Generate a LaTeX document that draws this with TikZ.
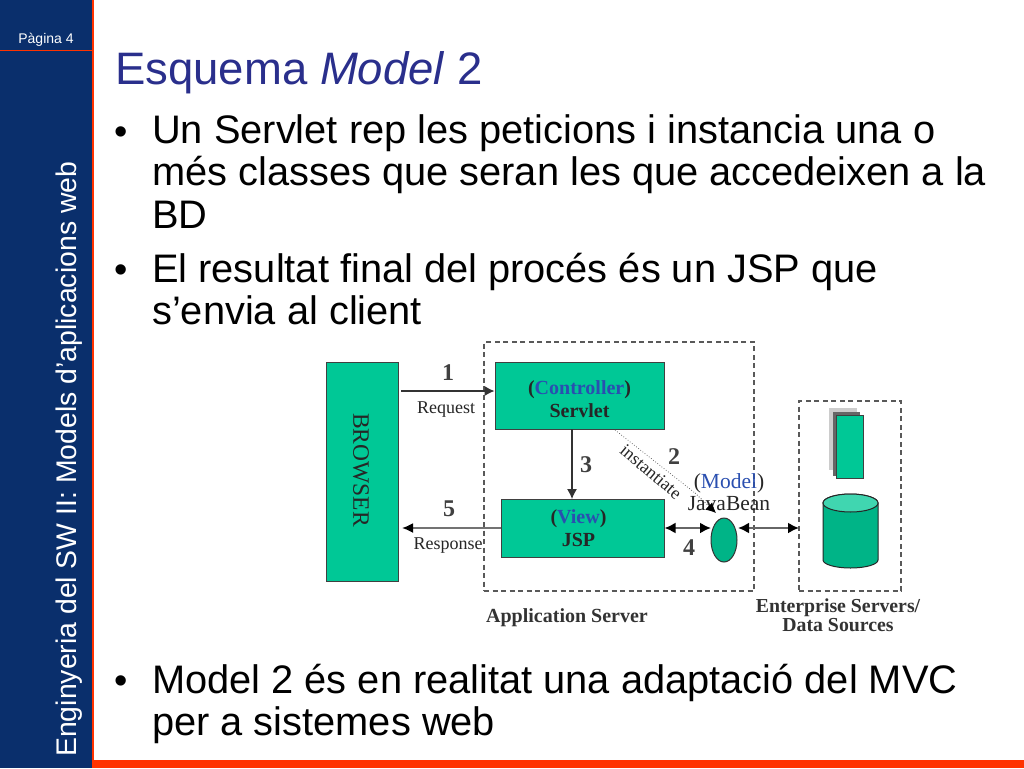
\documentclass[tikz,border=0pt]{standalone}
\usepackage{fontspec}
\setmainfont{Liberation Sans}
\newfontfamily\dgm{Liberation Serif}
\usetikzlibrary{shapes.geometric,arrows.meta}
\definecolor{navy}{HTML}{0A2F6C}
\definecolor{orng}{HTML}{FF3300}
\definecolor{ttl}{HTML}{2A2F8C}
\definecolor{teal}{HTML}{00C896}
\definecolor{bluet}{HTML}{2A4FB0}
\tikzset{
 x=1pt,y=-1pt,
 body/.style={anchor=north west,inner sep=0pt,align=left,font=\fontsize{39.8}{42.5}\selectfont,text=black},
 bul/.style={anchor=base,inner sep=0pt,font=\fontsize{38}{42}\selectfont},
 tealbox/.style={draw=black!75,line width=1pt,fill=teal,inner sep=0pt,align=center,font=\dgm\fontsize{20}{23.5}\selectfont\bfseries,text=black!85},
 region/.style={draw=black!65,dashed,line width=1.6pt,dash pattern=on 5pt off 3.5pt},
 lab/.style={inner sep=0pt,font=\dgm\fontsize{18}{20}\selectfont,text=black!85},
 num/.style={inner sep=0pt,font=\dgm\fontsize{24}{26}\selectfont\bfseries,text=black!75},
 conn/.style={line width=1.1pt,draw=black!80,-{Latex[length=10pt,width=10pt]}},
 both/.style={line width=2pt,draw=black!60,{Latex[length=11pt,width=11pt,black]}-{Latex[length=11pt,width=11pt,black]}},
}
\newcommand{\blu}[1]{(\textcolor{bluet}{#1})}
\begin{document}
\begin{tikzpicture}
\useasboundingbox (0,0) rectangle (1024,768);
\fill[white] (0,0) rectangle (1024,768);
\fill[navy] (0,0) rectangle (92,768);
\fill[orng] (92,0) rectangle (94,768);
\fill[orng] (92,760) rectangle (1024,768);
\fill[orng] (0,50) rectangle (92,51.5);
\node (page) at (46,40) [inner sep=0pt,text=white,font=\fontsize{14}{16}\selectfont] {Pàgina 4};
\node (side) at (76,757) [anchor=base west,rotate=90,inner sep=0pt,text=white,font=\fontsize{28.4}{32}\selectfont] {Enginyeria del SW II: Models d’aplicacions web};
\node (title) at (115,84) [anchor=base west,inner sep=0pt,text=ttl,font=\fontsize{45.5}{48}\selectfont] {Esquema \textit{Model} 2};
\node (b1) at (121,144) [bul] {•};
\node (t1) at (152,114) [body] {Un Servlet rep les peticions i instancia una o\\més classes que seran les que accedeixen a la\\BD};
\node (b2) at (121,282) [bul] {•};
\node (t2) at (152,252.5) [body] {El resultat final del procés és un JSP que\\s’envia al client};
\node (b3) at (121,693) [bul] {•};
\node (t3) at (152,663.5) [body] {Model 2 és en realitat una adaptació del MVC\\per a sistemes web};
% regions
\node (app) at (619,466.5) [region,minimum width=270pt,minimum height=249pt,inner sep=0pt] {};
\node (ent) at (850,496) [region,minimum width=102pt,minimum height=190pt,inner sep=0pt] {};
% boxes
\node (browser) at (362,471.5) [tealbox,minimum width=72pt,minimum height=219pt] {};
\node (browsertxt) at (361,470) [rotate=-90,inner sep=0pt,font=\dgm\fontsize{23.5}{26}\selectfont,text=black!85] {BROWSER};
\node (ctrl) at (579.5,395.5) [tealbox,minimum width=169pt,minimum height=67pt] {\rule{0pt}{21pt}\blu{Controller}\\Servlet};
\node (view) at (582.5,528) [tealbox,minimum width=163pt,minimum height=58pt] {\blu{View}\hspace*{8pt}\\JSP\hspace*{8pt}};
\node (bean) at (724,540) [ellipse,draw=black!80,line width=1pt,fill=teal!90!black,minimum width=26pt,minimum height=44pt,inner sep=0pt] {};
\node (beanlab) at (729,492) [inner sep=0pt,align=center,font=\dgm\fontsize{21.5}{22}\selectfont,text=black!85] {\blu{Model}\\JavaBean};
% server
\fill[black!20] (829,408) rectangle (857,470);
\fill[black!60] (833,412) rectangle (860,476);
\node (server) at (849.5,446.5) [tealbox,minimum width=27pt,minimum height=63pt] {};
\path[fill=teal!90!black,draw=black!85,line width=1pt] (823,503) -- (823,560) arc[start angle=180,end angle=360,x radius=27.5pt,y radius=8pt] -- (878,503) arc[start angle=0,end angle=180,x radius=27.5pt,y radius=9pt] -- cycle;
\path[fill=teal!75!white,draw=black!85,line width=1pt] (850.5,503) circle[x radius=27.5pt,y radius=9pt];
% connectors
\coordinate (c1s) at (401,391);
\coordinate (c4b) at (738,528);
\coordinate (c3a) at (572,429);
\coordinate (c3b) at (572,499);
\coordinate (c2a) at (615,430);
\coordinate (c2m) at (695,493);
\coordinate (c2b) at (716,513);
\coordinate (c5b) at (402,528);
\coordinate (c4a) at (711,528);
\coordinate (c6b) at (799,528);
\draw[conn] (c1s) -- (ctrl.west |- c1s);
\draw[conn] (c3a) -- (c3b);
\draw[line width=1.8pt,draw=black!55,-{Latex[length=11pt,width=10pt,black]}] (view.west) -- (c5b);
\draw[both] (view.east) -- (c4a);
\draw[both] (c4b) -- (c6b);
\draw[black!70,dotted,line width=0.7pt] (c2a) -- (c2m);
\draw[black,-{Latex[length=10pt,width=10pt]},line width=0.7pt,dotted] (c2m) -- (c2b);
% labels
\node (n1) at (448,373) [num] {1};
\node (rq) at (446,410) [lab] {Request};
\node (n3) at (586,465) [num] {3};
\node (n5) at (449,509) [num] {5};
\node (rs) at (448,546) [lab] {Response};
\node (n2) at (674,457) [num] {2};
\node (n4) at (689,548) [num] {4};
\node (inst) at (651,472) [rotate=-40,lab] {instantiate};
\node (applab) at (567,618) [inner sep=0pt,font=\dgm\fontsize{20}{22}\selectfont\bfseries,text=black!80] {Application Server};
\node (entlab) at (838,615) [inner sep=0pt,align=center,font=\dgm\fontsize{19.8}{19.5}\selectfont\bfseries,text=black!80] {Enterprise Servers/\\Data Sources};
\end{tikzpicture}
\end{document}
